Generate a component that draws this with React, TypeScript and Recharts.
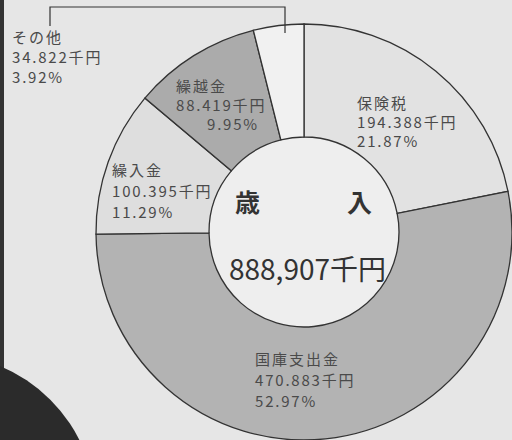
import React from "react";
import { PieChart, Pie, Cell } from "recharts";

const categories = ["保険税", "国庫支出金", "繰入金", "繰越金", "その他"];
const amounts = [194388, 470883, 100395, 88419, 34822];
const amountLabels = ["194.388千円", "470.883千円", "100.395千円", "88.419千円", "34.822千円"];
const percentLabels = ["21.87%", "52.97%", "11.29%", "9.95%", "3.92%"];
const totalLabel = "888,907千円";
const centerTitle = ["歳", "入"];

const fills = ["#e2e2e2", "#b3b3b3", "#dedede", "#ababab", "#f1f1f1"];

// label placement: [x, baseline of first line, line gap, percent x offset]
const labelLayout: [number, number, number, number][] = [
  [357, 109, 19, 0],
  [255, 365, 21, 0],
  [112, 176, 21, 0],
  [176, 92, 19, 31],
  [12, 43, 20, 0],
];

const data = categories.map((name, i) => ({ name, value: amounts[i] }));
const inner = [{ name: "center", value: 1 }];

const labelFont = "'Noto Sans CJK JP', 'Noto Sans', sans-serif";

export default function App() {
  return (
    <div style={{ position: "absolute", left: 0, top: 0, width: 512, height: 440, background: "#e6e6e6", overflow: "hidden" }}>
      <div style={{ position: "absolute", left: 0, top: 0, width: 4, height: 370, background: "#333" }} />
      <div style={{ position: "absolute", left: -216, top: 354, width: 312, height: 312, borderRadius: "50%", background: "#2b2b2b" }} />
      <div style={{ position: "absolute", left: 0, top: 0 }}>
        <PieChart width={512} height={440} margin={{ top: 0, right: 0, bottom: 0, left: 0 }}>
          <Pie
            data={inner}
            dataKey="value"
            cx={304}
            cy={232}
            innerRadius={0}
            outerRadius={95}
            fill="#eeeeee"
            stroke="none"
            isAnimationActive={false}
          />
          <Pie
            data={data}
            dataKey="value"
            cx={304}
            cy={232}
            innerRadius={95}
            outerRadius={208}
            startAngle={90}
            endAngle={-270}
            stroke="#333"
            strokeWidth={1.3}
            isAnimationActive={false}
          >
            {data.map((d, i) => (
              <Cell key={d.name} fill={fills[i]} />
            ))}
          </Pie>
        </PieChart>
      </div>
      <svg width={512} height={440} style={{ position: "absolute", left: 0, top: 0, pointerEvents: "none" }}>
        <polyline points="50,26 50,7 285,7 285,33" fill="none" stroke="#333" strokeWidth={1.2} />
        {categories.map((c, i) => {
          const [x, y, g, px] = labelLayout[i];
          return (
            <g key={c} fontFamily={labelFont} fill="#4a4a4a">
              <text x={x} y={y} fontSize={15} letterSpacing={2}>{c}</text>
              <text x={x} y={y + g} fontSize={15} letterSpacing={1.8}>{amountLabels[i]}</text>
              <text x={x + px} y={y + 2 * g} fontSize={15} letterSpacing={1.8}>{percentLabels[i]}</text>
            </g>
          );
        })}
        <text x={235} y={212} fontFamily={labelFont} fontSize={25} fontWeight={700} fill="#333">{centerTitle[0]}</text>
        <text x={347} y={212} fontFamily={labelFont} fontSize={25} fontWeight={700} fill="#333">{centerTitle[1]}</text>
        <text x={229} y={280} fontFamily={labelFont} fontSize={28} fill="#333">{totalLabel}</text>
      </svg>
    </div>
  );
}
